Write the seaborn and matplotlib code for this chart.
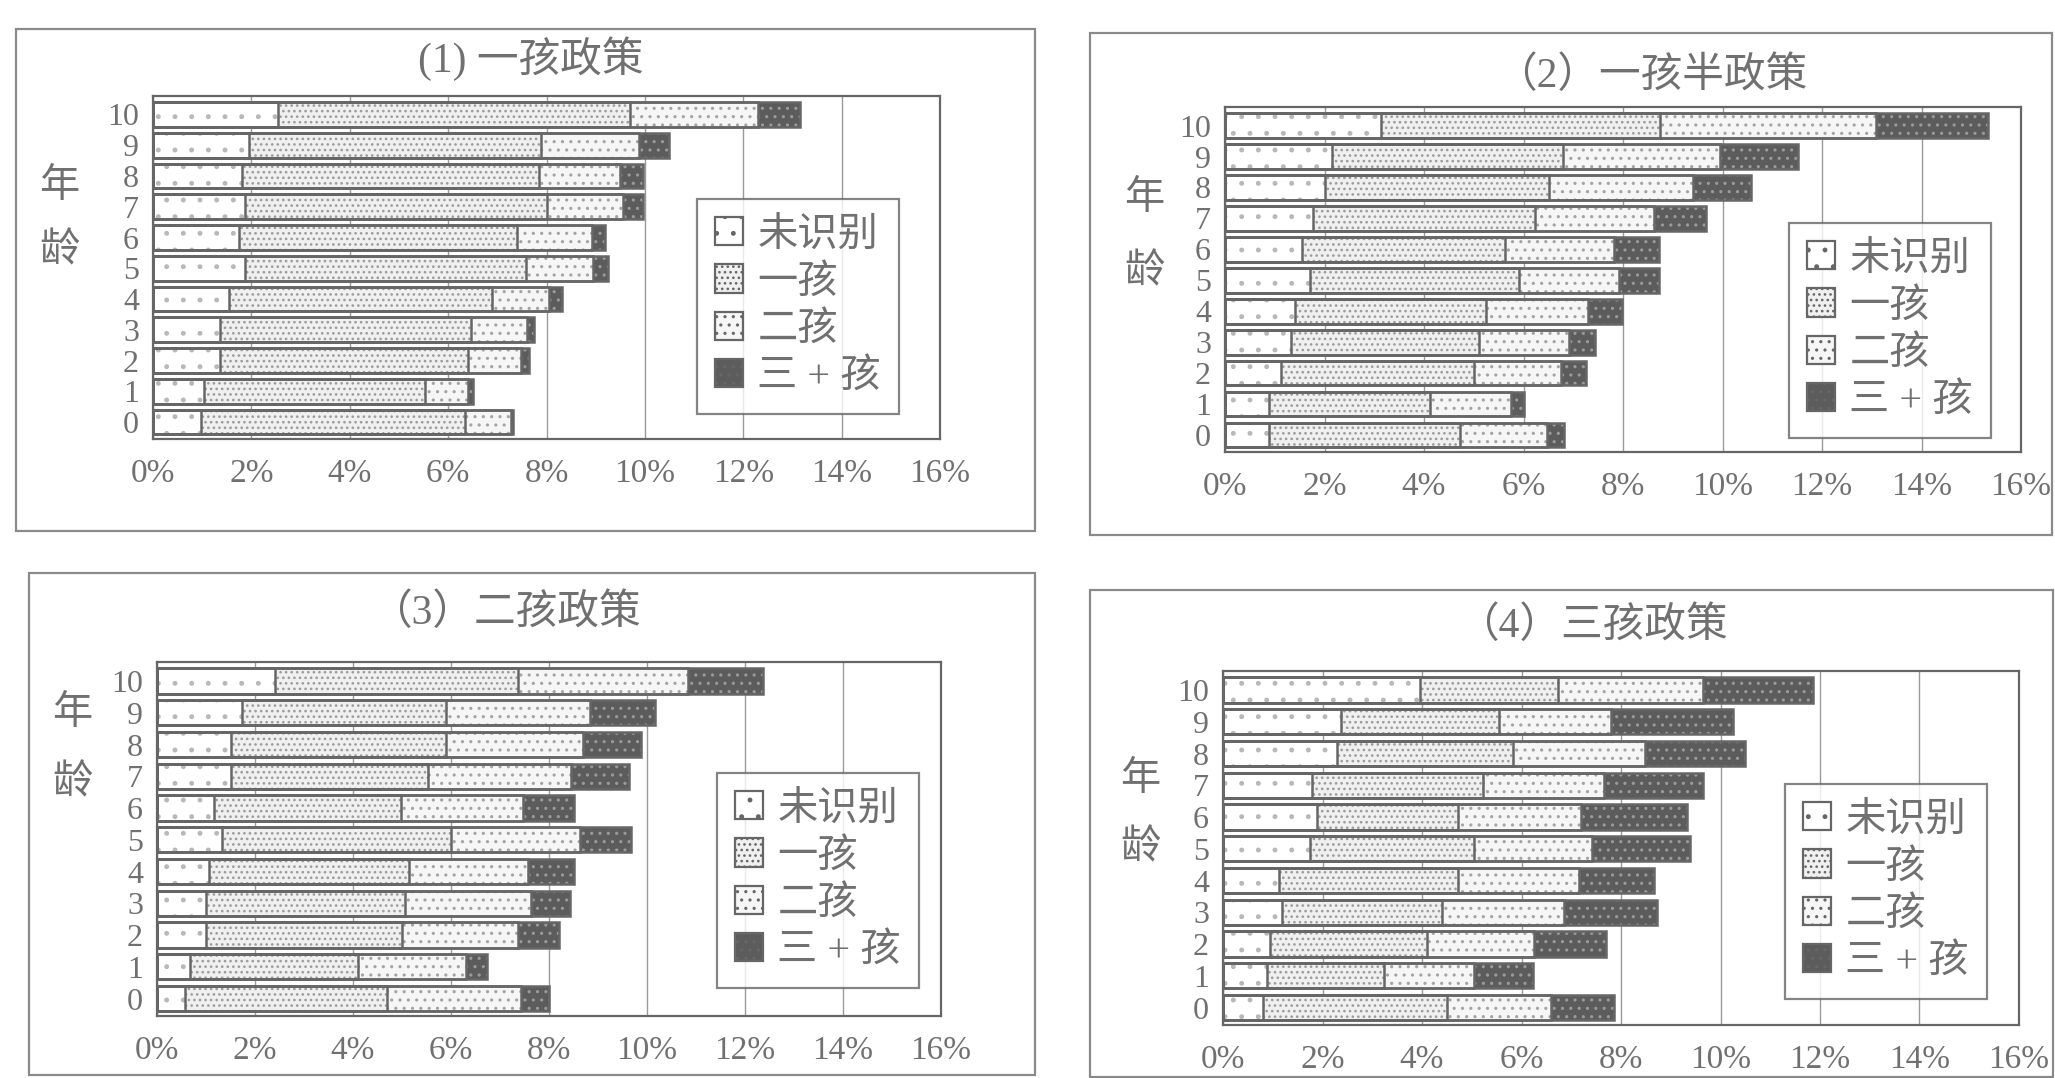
import matplotlib
matplotlib.use("Agg")
import matplotlib.pyplot as plt
from matplotlib.patches import Patch, Rectangle
import numpy as np
import pandas as pd
import seaborn as sns

# ---- data: share of population (%) by age and birth order ----
ages = list(range(11))
categories = ["未识别", "一孩", "二孩", "三 + 孩"]
x_ticks = [0, 2, 4, 6, 8, 10, 12, 14, 16]

titles = ["(1) 一孩政策", "（2）一孩半政策", "（3）二孩政策", "（4）三孩政策"]

one_child_unknown = [0.97, 1.03, 1.37, 1.37, 1.54, 1.88, 1.74, 1.88, 1.81, 1.95, 2.55]
one_child_first = [5.37, 4.50, 5.03, 5.10, 5.36, 5.70, 5.67, 6.13, 6.03, 5.93, 7.14]
one_child_second = [0.94, 0.87, 1.08, 1.14, 1.15, 1.37, 1.52, 1.55, 1.65, 2.01, 2.62]
one_child_third = [0.04, 0.10, 0.16, 0.13, 0.27, 0.31, 0.26, 0.40, 0.47, 0.61, 0.84]

half_unknown = [0.88, 0.88, 1.13, 1.33, 1.41, 1.70, 1.54, 1.76, 2.01, 2.16, 3.14]
half_first = [3.85, 3.25, 3.87, 3.77, 3.84, 4.21, 4.09, 4.47, 4.50, 4.63, 5.61]
half_second = [1.75, 1.62, 1.75, 1.81, 2.04, 2.00, 2.18, 2.40, 2.90, 3.16, 4.33]
half_third = [0.33, 0.26, 0.50, 0.53, 0.69, 0.82, 0.92, 1.03, 1.17, 1.56, 2.25]

two_child_unknown = [0.57, 0.67, 1.00, 1.00, 1.07, 1.33, 1.17, 1.51, 1.51, 1.73, 2.40]
two_child_first = [4.13, 3.44, 4.00, 4.07, 4.07, 4.67, 3.80, 4.03, 4.39, 4.16, 4.97]
two_child_second = [2.72, 2.19, 2.36, 2.56, 2.44, 2.63, 2.49, 2.91, 2.80, 2.95, 3.47]
two_child_third = [0.57, 0.44, 0.84, 0.80, 0.93, 1.04, 1.04, 1.19, 1.17, 1.33, 1.53]

three_child_unknown = [0.81, 0.88, 0.94, 1.19, 1.13, 1.75, 1.88, 1.79, 2.29, 2.38, 3.95]
three_child_first = [3.69, 2.35, 3.16, 3.22, 3.60, 3.29, 2.85, 3.44, 3.54, 3.16, 2.78]
three_child_second = [2.10, 1.81, 2.16, 2.44, 2.43, 2.37, 2.47, 2.43, 2.65, 2.25, 2.91]
three_child_third = [1.25, 1.19, 1.43, 1.88, 1.50, 1.98, 2.13, 1.98, 2.02, 2.46, 2.21]

panels = [
    (one_child_unknown, one_child_first, one_child_second, one_child_third),
    (half_unknown, half_first, half_second, half_third),
    (two_child_unknown, two_child_first, two_child_second, two_child_third),
    (three_child_unknown, three_child_first, three_child_second, three_child_third),
]

# ---- styling ----
sns.set_theme(style="white")
plt.rcParams["font.family"] = ["Liberation Serif", "Noto Sans CJK SC", "DejaVu Sans"]
plt.rcParams["hatch.linewidth"] = 1.1

W, H = 2055, 1078
fig = plt.figure(figsize=(W / 100, H / 100), dpi=100)
fig.patch.set_facecolor("white")

TEXT = "#707070"
EDGE = "#666666"
fills = ["#ffffff", "#f0f0f0", "#f6f6f6", "#5c5c5c"]
dot_colors = ["#b8b8b8", "#9c9c9c", "#a4a4a4", "#9a9a9a"]
hatches = [".", "...", "..", ".."]


def fx(px):
    return px / W


def fy(py):
    return 1 - py / H


# panel frames (x0, y0, x1, y1) in pixels from top-left
frames = [(16, 29, 1035, 531), (1090, 33, 2052, 535),
          (29, 573, 1035, 1075), (1090, 590, 2053, 1077)]
# axes boxes (left, top, right, bottom) in pixels
axes_px = [(153, 96, 940, 439), (1225, 107, 2021, 452),
           (157, 662, 941, 1016), (1223, 671, 2019, 1025)]
title_px = [(531, 59), (1651, 76), (505, 613), (1592, 626)]
ylabel_px = [((59, 187), (59, 252)), ((1144, 199), (1144, 273)),
             ((72, 714), (72, 784)), ((1140, 780), (1140, 849))]
legend_px = [(697, 199), (1789, 223), (717, 773), (1785, 784)]

order = [str(a) for a in ages[::-1]]

for i, series in enumerate(panels):
    x0, y0, x1, y1 = frames[i]
    fig.patches.append(Rectangle((fx(x0), fy(y1)), fx(x1 - x0), (y1 - y0) / H,
                                 transform=fig.transFigure, fill=False,
                                 edgecolor="#8a8a8a", linewidth=1.6))

    l, t, r, b = axes_px[i]
    ax = fig.add_axes([fx(l), fy(b), fx(r - l), (b - t) / H])

    df = pd.DataFrame({"age": [str(a) for a in ages]})
    cum = np.cumsum(np.array(series), axis=0)
    # layered cumulative bars, widest first, each with its own dotted fill
    for k in range(3, -1, -1):
        df["v"] = cum[k]
        sns.barplot(data=df, x="v", y="age", order=order, orient="h", ax=ax,
                    color=fills[k], edgecolor=dot_colors[k], linewidth=0,
                    hatch=hatches[k], width=0.8, saturation=1, zorder=3)
    # segment outlines on top of the dotted fills
    for k in range(3, -1, -1):
        df["v"] = cum[k]
        sns.barplot(data=df, x="v", y="age", order=order, orient="h", ax=ax,
                    color=EDGE, fill=False, linewidth=1.8, width=0.8,
                    saturation=1, zorder=4)

    ax.set_xlim(0, 16)
    ax.set_ylim(10.55, -0.6)
    ax.set_xticks(x_ticks)
    ax.set_xticklabels([f"{v}%" for v in x_ticks])
    ax.xaxis.grid(True, color="#9a9a9a", linewidth=1.0)
    ax.yaxis.grid(False)
    ax.set_axisbelow(True)
    ax.set_xlabel("")
    ax.set_ylabel("")
    ax.tick_params(axis="both", length=0, labelcolor=TEXT)
    ax.tick_params(axis="x", pad=14, labelsize=24)
    ax.tick_params(axis="y", pad=10, labelsize=23)
    for s in ax.spines.values():
        s.set_visible(True)
        s.set_color("#666666")
        s.set_linewidth(1.6)

    tx, ty = title_px[i]
    fig.text(fx(tx), fy(ty), titles[i], ha="center", va="center",
             fontsize=30, color=TEXT)
    for ch, (px, py) in zip("年龄", ylabel_px[i]):
        fig.text(fx(px), fy(py), ch, ha="center", va="center",
                 fontsize=29, color=TEXT)

    handles = [Patch(facecolor=fills[k], edgecolor=EDGE, hatch=hatches[k],
                     linewidth=1.6) for k in range(4)]
    lx, ly = legend_px[i]
    leg = ax.legend(handles, categories, loc="upper left",
                    bbox_to_anchor=(fx(lx), fy(ly)),
                    bbox_transform=fig.transFigure, borderaxespad=0,
                    fontsize=29, frameon=True, fancybox=False,
                    handlelength=0.7, handleheight=0.7, handletextpad=0.35,
                    labelspacing=0.25, borderpad=0.45, labelcolor=TEXT)
    leg.get_frame().set_edgecolor("#666666")
    leg.get_frame().set_linewidth(1.6)
    leg.set_zorder(10)

fig.savefig("out.png", dpi=100, facecolor="white")
